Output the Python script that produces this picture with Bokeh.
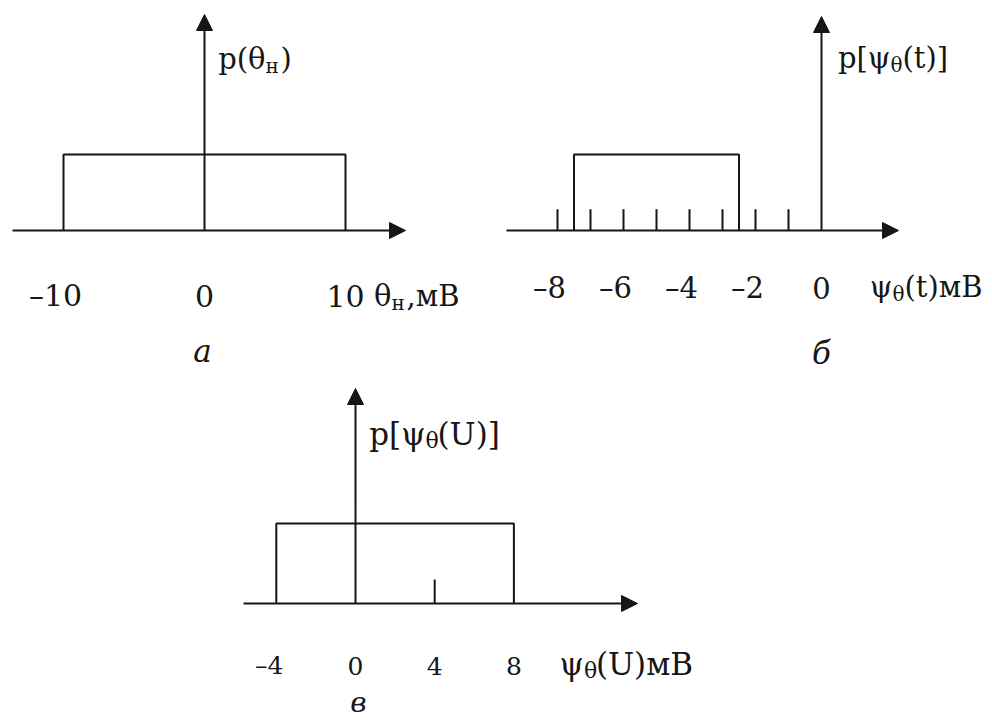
from bokeh.plotting import figure
from bokeh.models import Arrow, NormalHead, Range1d, ColumnDataSource
from bokeh.layouts import column, row
from bokeh.core.properties import value
from bokeh.embed import file_html
from bokeh.resources import INLINE

SERIF = "DejaVu Serif"
INK = "#161616"

# (а) noise voltage θн, uniform on [-10, 10] mV
noise_support = [-10, 10]
noise_ticks = [-10, 0, 10]
noise_tick_labels = ["–10", "0", "10"]

# (б) ψθ(t), uniform on [-7.5, -2.5] mV
t_support = [-7.5, -2.5]
t_marks = [-8, -7, -6, -5, -4, -3, -2, -1]
t_ticks = [-8, -6, -4, -2, 0]
t_tick_labels = ["–8", "–6", "–4", "–2", "0"]

# (в) ψθ(U), uniform on [-4, 8] mV
u_support = [-4, 8]
u_marks = [4]
u_ticks = [-4, 0, 4, 8]
u_tick_labels = ["–4", "0", "4", "8"]


def panel(width, height, origin, axis_y, unit, level, support, x_left, x_right, y_tip):
    """One density sketch: origin/axis_y in pixels, unit = px per mV,
    level = drawn height of the density step in px."""
    lo, hi = support
    dens = 1.0 / (hi - lo)
    per_px = dens / level
    p = figure(width=width, height=height,
               x_range=Range1d(-origin / unit, (width - origin) / unit),
               y_range=Range1d(-(height - axis_y) * per_px, axis_y * per_px),
               x_axis_location=None, y_axis_location=None,
               toolbar_location=None, output_backend="svg",
               min_border=0, outline_line_color=None,
               background_fill_color="white", border_fill_color="white")
    p.xgrid.visible = False
    p.ygrid.visible = False

    def head():
        return NormalHead(size=16, fill_color=INK, line_color=INK, line_width=1)

    p.add_layout(Arrow(end=head(), x_start=(x_left - origin) / unit, y_start=0,
                       x_end=(x_right - origin) / unit, y_end=0,
                       line_color=INK, line_width=2))
    p.add_layout(Arrow(end=head(), x_start=0, y_start=0,
                       x_end=0, y_end=(axis_y - y_tip) * per_px,
                       line_color=INK, line_width=2))
    p.line([lo, lo, hi, hi], [0, dens, dens, 0], line_color=INK, line_width=2)
    return p, dens


def marks(p, xs, dens, frac):
    p.segment(x0=xs, y0=[0] * len(xs), x1=xs, y1=[dens * frac] * len(xs),
              line_color=INK, line_width=2)


def tick_labels(p, ticks, labels, size, dy, neg_dx):
    src = ColumnDataSource(dict(x=ticks, y=[0] * len(ticks), t=labels,
                                dx=[neg_dx if v < 0 else 0 for v in ticks]))
    p.text("x", "y", text="t", source=src, x_offset="dx", y_offset=dy,
           text_align="center", text_baseline="alphabetic",
           text_font=value(SERIF), text_font_size=f"{size}px", text_color=INK)


def sub_label(p, x, head, sub, tail, size, dx, dy, sub_w):
    """head + subscript + tail, anchored where the subscript starts."""
    common = dict(text_baseline="alphabetic", text_font=value(SERIF), text_color=INK)
    p.text(x=[x], y=[0], text=[head], x_offset=dx, y_offset=dy,
           text_align="right", text_font_size=f"{size}px", **common)
    p.text(x=[x], y=[0], text=[sub], x_offset=dx, y_offset=dy + round(size * 0.24),
           text_align="left", text_font_size=f"{round(size * 0.7)}px", **common)
    p.text(x=[x], y=[0], text=[tail], x_offset=dx + sub_w, y_offset=dy,
           text_align="left", text_font_size=f"{size}px", **common)


def letter(p, txt, dx, dy, size=32):
    p.text(x=[0], y=[0], text=[txt], x_offset=dx, y_offset=dy,
           text_align="center", text_baseline="alphabetic",
           text_font=value(SERIF), text_font_style="italic",
           text_font_size=f"{size}px", text_color=INK)


# ---- а ----
pa, _ = panel(496, 370, origin=204, axis_y=230, unit=14.1, level=76,
              support=noise_support, x_left=12, x_right=405, y_tip=14)
tick_labels(pa, noise_ticks, noise_tick_labels, 30, 65, -8)
sub_label(pa, 0, "p(θ", "н", ")", 29, 61, -172, 15)
sub_label(pa, 10, "θ", "н", ",мВ", 29, 46, 65, 15)
letter(pa, "а", -2, 120, 31)

# ---- б ----
pb, dens_b = panel(496, 370, origin=325, axis_y=230, unit=33, level=76,
                   support=t_support, x_left=10, x_right=402, y_tip=16)
marks(pb, t_marks, dens_b, 0.28)
tick_labels(pb, t_ticks, t_tick_labels, 29, 57, -8)
sub_label(pb, 0, "p[ψ", "θ", "(t)]", 29, 69, -173, 12)
sub_label(pb, 0, "ψ", "θ", "(t)мВ", 29, 71, 56, 12)
letter(pb, "б", 0, 122, 31)

# ---- в ----
pc, dens_c = panel(992, 351, origin=355, axis_y=233, unit=19.8, level=80,
                   support=u_support, x_left=243, x_right=637, y_tip=18)
marks(pc, u_marks, dens_c, 0.3)
tick_labels(pc, u_ticks, u_tick_labels, 25, 62, -7)
sub_label(pc, 0, "p[ψ", "θ", "(U)]", 31, 70, -170, 12)
sub_label(pc, 8, "ψ", "θ", "(U)мВ", 31, 70, 60, 12)
letter(pc, "в", 3, 99, 28)

layout = column(row(pa, pb, spacing=0), pc, spacing=0)
open("out.html", "w").write(file_html(layout, INLINE))
